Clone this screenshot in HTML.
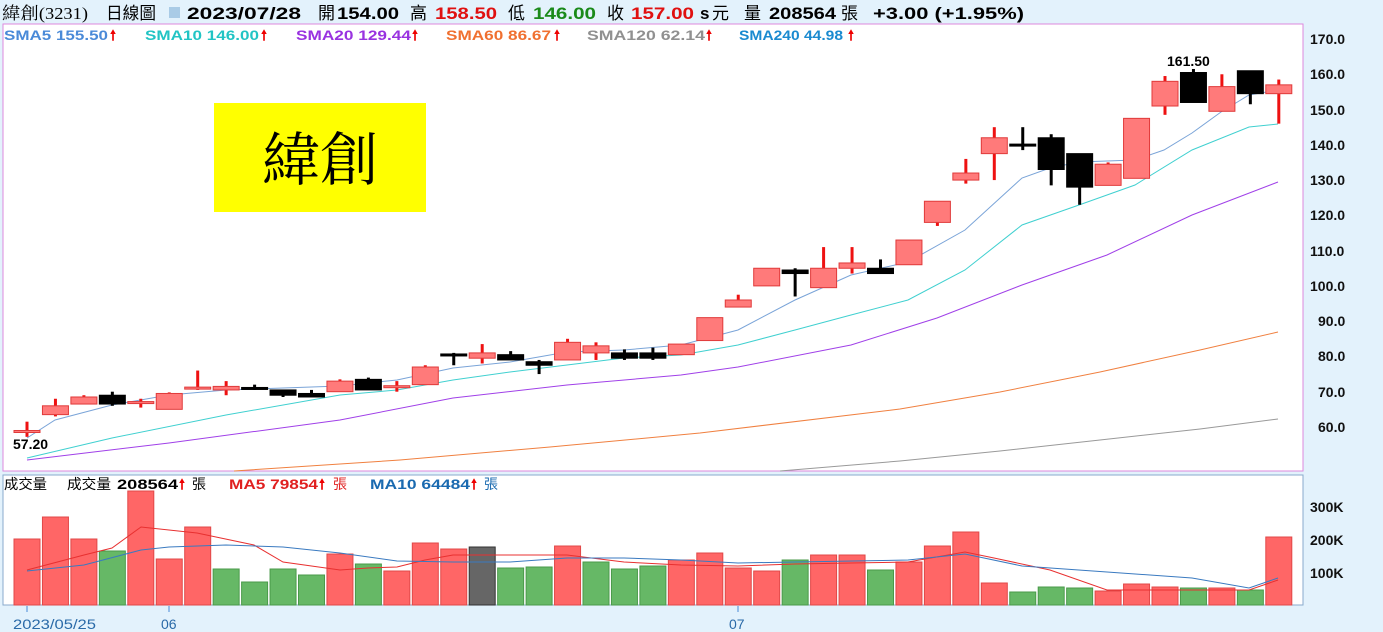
<!DOCTYPE html>
<html><head><meta charset="utf-8"><style>
body{margin:0;background:#e3f2fc;width:1383px;height:632px;overflow:hidden;font-family:"Liberation Sans","Noto Sans CJK TC",sans-serif}
svg{position:absolute;left:0;top:0}
</style></head><body>
<svg id="s" width="1383" height="632" xmlns="http://www.w3.org/2000/svg" font-family="Liberation Sans, Noto Sans CJK TC, sans-serif">
<rect x="3" y="24" width="1300" height="447" fill="#fff" stroke="#dd88dd"/>
<rect x="3" y="475" width="1300" height="130" fill="#fff" stroke="#88aacc"/>
<g font-size="17" font-weight="bold" lengthAdjust="spacingAndGlyphs">
<text x="2" y="19" textLength="86" lengthAdjust="spacingAndGlyphs" font-family="Liberation Serif, Noto Serif CJK SC, serif" font-weight="normal">緯創(3231)</text>
<text x="106" y="19" textLength="50" lengthAdjust="spacingAndGlyphs" font-weight="normal">日線圖</text>
<rect x="169" y="7" width="11" height="11" fill="#a9cbe6"/>
<text x="187" y="19" textLength="114" lengthAdjust="spacingAndGlyphs">2023/07/28</text>
<text x="318" y="19" font-weight="normal">開</text>
<text x="337" y="19" textLength="62" lengthAdjust="spacingAndGlyphs">154.00</text>
<text x="410" y="19" font-weight="normal">高</text>
<text x="435" y="19" textLength="62" lengthAdjust="spacingAndGlyphs" fill="#e01010">158.50</text>
<text x="508" y="19" font-weight="normal">低</text>
<text x="533" y="19" textLength="63" lengthAdjust="spacingAndGlyphs" fill="#1a8a1a">146.00</text>
<text x="607" y="19" font-weight="normal">收</text>
<text x="631" y="19" textLength="63" lengthAdjust="spacingAndGlyphs" fill="#e01010">157.00</text>
<text x="700" y="19">s</text>
<text x="712" y="19" font-weight="normal">元</text>
<text x="744" y="19" font-weight="normal">量</text>
<text x="769" y="19" textLength="67" lengthAdjust="spacingAndGlyphs">208564</text>
<text x="841" y="19" font-weight="normal">張</text>
<text x="873" y="19" textLength="151" lengthAdjust="spacingAndGlyphs">+3.00 (+1.95%)</text>
</g>
<g font-size="14" font-weight="bold">
<text x="4" y="40" textLength="104" lengthAdjust="spacingAndGlyphs" fill="#4a8ad8">SMA5 155.50</text>
<text x="145" y="40" textLength="114" lengthAdjust="spacingAndGlyphs" fill="#22c4c4">SMA10 146.00</text>
<text x="296" y="40" textLength="115" lengthAdjust="spacingAndGlyphs" fill="#9932e0">SMA20 129.44</text>
<text x="446" y="40" textLength="105" lengthAdjust="spacingAndGlyphs" fill="#f07030">SMA60 86.67</text>
<text x="587" y="40" textLength="118" lengthAdjust="spacingAndGlyphs" fill="#909090">SMA120 62.14</text>
<text x="739" y="40" textLength="104" lengthAdjust="spacingAndGlyphs" fill="#1a8ad0">SMA240 44.98</text>
<g fill="#e00"><text x="110" y="40">🠕</text><text x="261" y="40">🠕</text><text x="412" y="40">🠕</text><text x="554" y="40">🠕</text><text x="706" y="40">🠕</text><text x="848" y="40">🠕</text></g>
</g>
<g font-size="14" font-weight="bold" fill="#111">
<text x="1310" y="44">170.0</text><text x="1310" y="79">160.0</text><text x="1310" y="115">150.0</text><text x="1310" y="150">140.0</text><text x="1310" y="185">130.0</text><text x="1310" y="220">120.0</text><text x="1310" y="256">110.0</text><text x="1310" y="291">100.0</text><text x="1318" y="326">90.0</text><text x="1318" y="361">80.0</text><text x="1318" y="397">70.0</text><text x="1318" y="432">60.0</text>
<text x="1310" y="512">300K</text><text x="1310" y="545">200K</text><text x="1310" y="578">100K</text>
</g>
<rect x="214" y="103" width="212" height="109" fill="#ffff00"/>
<text x="320" y="180" font-size="58" text-anchor="middle" font-family="Liberation Serif, Noto Serif CJK TC, serif" fill="#000">緯創</text>
<g id="c"></g>
<text x="13" y="449" font-size="14" font-weight="bold">57.20</text>
<text x="1167" y="66" font-size="14" font-weight="bold">161.50</text>
<g font-size="14">
<text x="4" y="489" textLength="43" lengthAdjust="spacingAndGlyphs">成交量</text>
<text x="67" y="489" textLength="44" lengthAdjust="spacingAndGlyphs">成交量</text>
<text x="117" y="489" textLength="61" lengthAdjust="spacingAndGlyphs" font-weight="bold">208564</text>
<text x="179" y="489" fill="#e00" font-weight="bold">🠕</text><text x="192" y="489">張</text>
<text x="229" y="489" textLength="89" lengthAdjust="spacingAndGlyphs" fill="#e02020" font-weight="bold">MA5 79854</text>
<text x="319" y="489" fill="#e00" font-weight="bold">🠕</text><text x="333" y="489" fill="#e02020">張</text>
<text x="370" y="489" textLength="100" lengthAdjust="spacingAndGlyphs" fill="#1a6ab0" font-weight="bold">MA10 64484</text>
<text x="471" y="489" fill="#e00" font-weight="bold">🠕</text><text x="484" y="489" fill="#1a6ab0">張</text>
</g>
<g stroke="#4a8ad8"><line x1="27" y1="606" x2="27" y2="612"/><line x1="169" y1="606" x2="169" y2="612"/><line x1="738" y1="606" x2="738" y2="612"/></g>
<g font-size="14" fill="#2a6aa8"><text x="13" y="629" textLength="83" lengthAdjust="spacingAndGlyphs">2023/05/25</text><text x="161" y="629">06</text><text x="729" y="629">07</text></g>
</svg>
<script>
var d=[[59,58.5,61.5,57.2,1],[63.5,66,68,63,1],[66.5,68.5,69,66.5,1],[69,66.5,70,66,0],[66.8,67.2,68,65.5,1],[65,69.5,69.8,65,1],[71,71.3,76,70.5,1],[70.5,71.5,73,69,1],[71.2,70.8,72,70.5,0],[70.5,69,70.5,68.5,0],[69.5,68.5,70.5,68.5,0],[70,73,73.5,70,1],[73.5,70.5,74,70.5,0],[71.3,71.7,73,70,1],[72,77,77.5,72,1],[80.7,80.5,81,77.5,0],[79.5,81,83.5,78,1],[80.5,79,81.5,79,0],[78.5,77.5,79,75,0],[79,84,85,79,1],[81,83,84,79,1],[81,79.5,82,79,0],[81,79.5,82.5,79,0],[80.5,83.5,83.5,80.5,1],[84.5,91,91,84.5,1],[94,96,97.5,94,1],[100,105,105,100,1],[104.5,103.5,105,97,0],[99.5,105,111,99.5,1],[105,106.5,111,103.5,1],[105,103.5,107.5,103.5,0],[106,113,113,106,1],[118,124,124,117,1],[130,132,136,129,1],[137.5,142,145,130,1],[140.2,139.8,145,138.5,0],[142,133,143,128.5,0],[137.5,128,137.5,123,0],[128.5,134.5,135,128.5,1],[130.5,147.5,147.5,130.5,1],[151,158,159.5,148.5,1],[160.5,152,161.5,152,0],[149.5,156.5,160,149.5,1],[161,154.5,161,151.5,0],[154.5,157,158.5,146,1]];
var vt=[539,517,539,551,491,559,527,569,582,569,575,554,564,571,543,549,547,568,567,546,562,569,566,560,553,568,571,560,555,555,570,562,546,532,583,592,587,588,591,584,587,588,588,590,537];
var vc="rrrgrrrggggrgrrrkggrgggrrrrgrrgrrrrgggrrrgrgr";
function Y(p){return 39+(170-p)*3.527}
var h="";
for(var i=0;i<45;i++){var x=27+i*28.45,c=vc[i];var f=c=="r"?"#ff6666":c=="g"?"#66b866":"#666";var s=c=="r"?"#e04848":c=="g"?"#4a9a4a":"#333";
h+='<rect x="'+(x-13)+'" y="'+vt[i]+'" width="26" height="'+(605-vt[i])+'" fill="'+f+'" stroke="'+s+'"/>';}
function pl(pts,col,w){return '<polyline fill="none" stroke="'+col+'" stroke-width="'+(w||1)+'" points="'+pts+'"/>'}
h+=pl("27,570 84,555 112,548 141,527 197,533 254,545 283,562 340,570 368,568 397,567 425,560 453,555 510,555 567,555 624,562 681,565 738,566 795,564 851,563 908,562 965,552 994,558 1050,570 1107,590 1164,590 1249,590 1278,580","#e83030");
h+=pl("27,571 84,565 141,550 169,547 226,545 283,547 340,553 397,561 453,562 510,562 567,558 624,558 681,560 738,563 795,562 908,560 965,554 1022,566 1107,572 1192,578 1249,588 1278,578","#3a7ac0");
h+=pl("234,471 400,460 550,447 700,433 900,409 1000,392 1100,372 1200,350 1278,332","#f08040");
h+=pl("780,471 900,461 1000,451 1100,440 1200,429 1278,419","#999");
h+=pl("27,460 169,443 340,420 453,398 567,385 681,375 738,367 851,345 937,318 1022,285 1107,255 1192,215 1278,182","#a040e8");
h+=pl("27,458 112,438 226,415 340,395 397,390 453,380 510,372 567,365 624,358 681,355 738,345 795,330 851,315 908,300 965,270 1022,225 1079,205 1135,185 1192,150 1249,127 1278,124","#40d0d0");
h+=pl("27,438 55,420 112,405 169,395 226,390 283,388 340,386 397,380 453,368 510,362 567,352 624,350 681,345 738,330 795,300 851,275 908,262 965,230 1022,178 1050,168 1079,162 1135,160 1164,150 1192,133 1221,112 1249,95 1278,90","#7aa4d8");
for(var i=0;i<45;i++){var x=27+i*28.45,o=d[i][0],c=d[i][1],hi=d[i][2],lo=d[i][3],up=d[i][4];
var col=up?"#ee1111":"#000";
h+='<line x1="'+x+'" x2="'+x+'" y1="'+Y(hi)+'" y2="'+Y(lo)+'" stroke="'+col+'" stroke-width="3"/>';
var t=Y(Math.max(o,c)),b=Y(Math.min(o,c));if(b-t<2){b=t+2}
h+='<rect x="'+(x-13)+'" y="'+t+'" width="26" height="'+(b-t)+'" fill="'+(up?"#ff7a7a":"#000")+'" stroke="'+(up?"#e03a3a":"#000")+'"/>';}
document.getElementById("c").innerHTML=h;
</script>
</body></html>
